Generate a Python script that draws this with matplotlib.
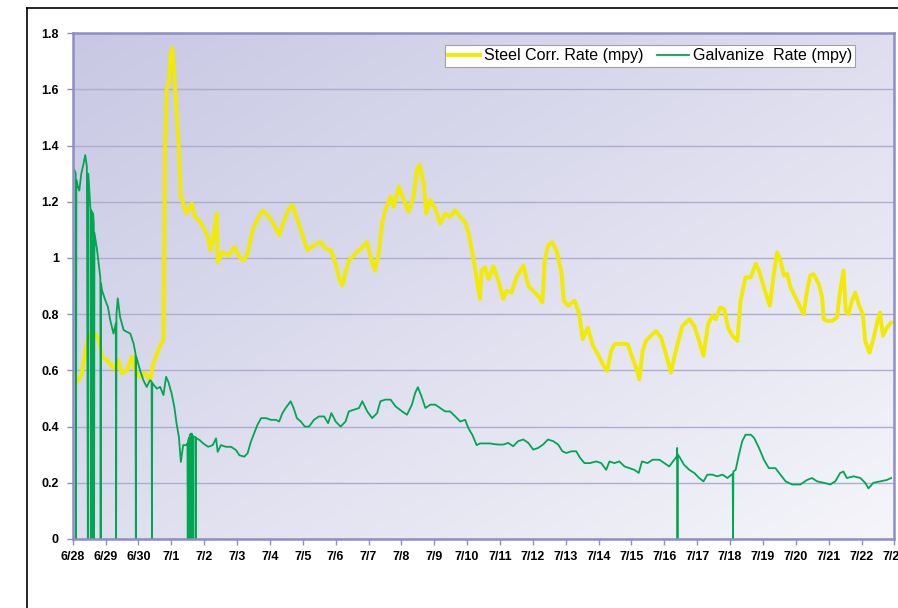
import numpy as np
import matplotlib
matplotlib.use("Agg")
import matplotlib.pyplot as plt
from matplotlib.colors import LinearSegmentedColormap
from matplotlib.lines import Line2D

plt.rcParams["font.family"] = ["Liberation Sans", "DejaVu Sans"]

# ---------------------------------------------------------------
# Data. x = days since 6/28 00:00
# ---------------------------------------------------------------
steel_day = [
    0.03, 0.18, 0.28, 0.38, 0.48, 0.69, 0.79, 0.89, 1.09, 1.24, 1.39, 1.49,
    1.65, 1.80, 1.90, 2.05, 2.20, 2.35, 2.45, 2.56, 2.69, 2.76, 2.81, 2.86,
    2.93, 2.98, 3.03, 3.09, 3.16, 3.23, 3.29, 3.36, 3.46, 3.62, 3.72, 3.87,
    4.02, 4.11, 4.19, 4.28, 4.38, 4.41, 4.56, 4.74, 4.92, 5.07, 5.20, 5.32,
    5.47, 5.63, 5.78, 5.93, 6.08, 6.28, 6.43, 6.58, 6.69, 6.84, 6.99, 7.14,
    7.34, 7.54, 7.70, 7.85, 8.00, 8.10, 8.20, 8.30, 8.40, 8.60, 8.76, 8.96,
    9.06, 9.19, 9.31, 9.41, 9.51, 9.67, 9.77, 9.92, 10.07, 10.22, 10.37, 10.47,
    10.55, 10.68, 10.75, 10.88, 11.03, 11.18, 11.33, 11.48, 11.64, 11.79, 11.94, 12.06,
    12.19, 12.29, 12.39, 12.44, 12.54, 12.65, 12.80, 12.95, 13.10, 13.20, 13.35, 13.50,
    13.71, 13.86, 14.01, 14.16, 14.29, 14.36, 14.46, 14.59, 14.72, 14.87, 14.94, 15.07,
    15.27, 15.40, 15.52, 15.67, 15.83, 15.98, 16.13, 16.26, 16.38, 16.48, 16.69, 16.89,
    16.99, 17.14, 17.24, 17.34, 17.44, 17.59, 17.75, 17.90, 18.05, 18.20, 18.30, 18.40,
    18.55, 18.76, 18.91, 19.06, 19.19, 19.33, 19.46, 19.56, 19.70, 19.82, 19.94, 20.07,
    20.22, 20.32, 20.47, 20.63, 20.78, 20.88, 21.03, 21.21, 21.33, 21.43, 21.53, 21.64,
    21.74, 21.84, 21.99, 22.14, 22.24, 22.34, 22.44, 22.54, 22.70, 22.80, 22.85, 22.95,
    23.10, 23.25, 23.35, 23.45, 23.52, 23.60, 23.71, 23.81, 23.91, 24.04, 24.11, 24.24,
    24.36, 24.46, 24.56, 24.65, 24.77, 24.90,
]
steel_rate = [
    0.553, 0.565, 0.59, 0.67, 0.725, 0.73, 0.71, 0.65, 0.63, 0.607, 0.636, 0.59,
    0.60, 0.65, 0.60, 0.577, 0.59, 0.565, 0.624, 0.66, 0.696, 0.707, 1.384, 1.60,
    1.63, 1.73, 1.746, 1.657, 1.515, 1.384, 1.218, 1.194, 1.158, 1.194, 1.147, 1.129,
    1.10, 1.075, 1.027, 1.075, 1.158, 0.985, 1.02, 1.009, 1.039, 1.003, 0.991, 1.015,
    1.099, 1.14, 1.168, 1.152, 1.128, 1.081, 1.134, 1.176, 1.188, 1.134, 1.081, 1.027,
    1.045, 1.057, 1.033, 1.027, 0.979, 0.931, 0.901, 0.949, 0.99, 1.015, 1.033, 1.057,
    1.003, 0.955, 1.015, 1.122, 1.17, 1.218, 1.182, 1.254, 1.206, 1.164, 1.218, 1.313,
    1.331, 1.266, 1.158, 1.206, 1.176, 1.122, 1.158, 1.146, 1.17, 1.146, 1.128, 1.081,
    0.997, 0.925, 0.854, 0.955, 0.967, 0.925, 0.97, 0.919, 0.854, 0.883, 0.877, 0.931,
    0.973, 0.901, 0.883, 0.865, 0.842, 0.99, 1.044, 1.056, 1.026, 0.949, 0.848, 0.83,
    0.848, 0.806, 0.711, 0.752, 0.687, 0.657, 0.621, 0.598, 0.669, 0.693, 0.695, 0.693,
    0.657, 0.61, 0.568, 0.669, 0.705, 0.723, 0.74, 0.717, 0.657, 0.592, 0.645, 0.693,
    0.758, 0.782, 0.758, 0.705, 0.651, 0.764, 0.794, 0.782, 0.824, 0.818, 0.752, 0.723,
    0.705, 0.848, 0.931, 0.931, 0.979, 0.955, 0.895, 0.83, 0.943, 1.02, 0.99, 0.937,
    0.943, 0.895, 0.86, 0.824, 0.80, 0.883, 0.937, 0.943, 0.907, 0.86, 0.782, 0.776,
    0.776, 0.788, 0.883, 0.955, 0.812, 0.80, 0.848, 0.877, 0.836, 0.80, 0.705, 0.663,
    0.711, 0.764, 0.806, 0.723, 0.752, 0.77,
]

galv_day = [
    0.00, 0.05, 0.09, 0.10, 0.11, 0.16, 0.20, 0.26, 0.33, 0.38, 0.43, 0.46,
    0.47, 0.50, 0.54, 0.55, 0.56, 0.60, 0.61, 0.62, 0.64, 0.65, 0.66, 0.74,
    0.81, 0.84, 0.85, 0.86, 0.89, 0.99, 1.07, 1.14, 1.24, 1.31, 1.32, 1.33,
    1.37, 1.44, 1.55, 1.65, 1.75, 1.85, 1.91, 1.92, 1.93, 2.05, 2.15, 2.25,
    2.35, 2.40, 2.41, 2.42, 2.56, 2.66, 2.76, 2.84, 2.91, 3.01, 3.09, 3.16,
    3.23, 3.29, 3.36, 3.46, 3.49, 3.50, 3.51, 3.54, 3.55, 3.56, 3.60, 3.61,
    3.62, 3.64, 3.65, 3.66, 3.73, 3.74, 3.75, 3.87, 3.97, 4.12, 4.26, 4.36,
    4.41, 4.51, 4.66, 4.82, 4.97, 5.07, 5.22, 5.32, 5.42, 5.52, 5.62, 5.73,
    5.88, 6.03, 6.18, 6.28, 6.38, 6.48, 6.63, 6.72, 6.82, 6.94, 7.06, 7.19,
    7.34, 7.49, 7.65, 7.77, 7.87, 8.00, 8.15, 8.30, 8.40, 8.55, 8.71, 8.81,
    8.96, 9.11, 9.26, 9.36, 9.51, 9.67, 9.82, 10.02, 10.17, 10.32, 10.42, 10.50,
    10.61, 10.73, 10.88, 11.03, 11.18, 11.33, 11.48, 11.64, 11.79, 11.94, 12.04, 12.16,
    12.29, 12.39, 12.54, 12.70, 12.80, 12.95, 13.10, 13.25, 13.40, 13.55, 13.71, 13.86,
    14.01, 14.16, 14.31, 14.46, 14.62, 14.77, 14.90, 15.02, 15.17, 15.32, 15.44, 15.57,
    15.73, 15.93, 16.08, 16.23, 16.33, 16.48, 16.63, 16.79, 16.94, 17.09, 17.22, 17.32,
    17.49, 17.64, 17.85, 18.00, 18.15, 18.30, 18.38, 18.39, 18.40, 18.41, 18.45, 18.60,
    18.76, 18.91, 19.06, 19.19, 19.31, 19.46, 19.61, 19.77, 19.92, 20.04, 20.08, 20.09,
    20.10, 20.17, 20.27, 20.37, 20.47, 20.63, 20.73, 20.88, 21.03, 21.18, 21.38, 21.53,
    21.69, 21.89, 22.14, 22.34, 22.49, 22.65, 22.85, 23.05, 23.20, 23.35, 23.45, 23.55,
    23.76, 23.96, 24.11, 24.21, 24.36, 24.56, 24.77, 24.90,
]
galv_rate = [
    1.30, 1.313, 1.30, 0.0, 1.277, 1.253, 1.24, 1.30, 1.336, 1.366, 1.325, 0.0,
    1.30, 1.25, 1.17, 0.0, 1.17, 1.16, 0.0, 1.158, 1.12, 0.0, 1.09, 1.028,
    0.957, 0.93, 0.0, 0.91, 0.885, 0.85, 0.826, 0.779, 0.731, 0.767, 0.0, 0.80,
    0.856, 0.79, 0.743, 0.737, 0.731, 0.696, 0.66, 0.0, 0.65, 0.60, 0.565, 0.541,
    0.565, 0.56, 0.0, 0.555, 0.535, 0.541, 0.512, 0.577, 0.559, 0.517, 0.47, 0.41,
    0.363, 0.274, 0.334, 0.334, 0.34, 0.0, 0.35, 0.36, 0.0, 0.37, 0.375, 0.0,
    0.375, 0.37, 0.0, 0.365, 0.363, 0.0, 0.36, 0.351, 0.34, 0.328, 0.334, 0.358,
    0.31, 0.334, 0.328, 0.328, 0.316, 0.298, 0.293, 0.305, 0.346, 0.376, 0.406, 0.43,
    0.43, 0.424, 0.424, 0.418, 0.448, 0.466, 0.49, 0.466, 0.43, 0.418, 0.40, 0.40,
    0.424, 0.436, 0.436, 0.412, 0.448, 0.418, 0.40, 0.418, 0.454, 0.46, 0.466, 0.49,
    0.454, 0.43, 0.448, 0.49, 0.496, 0.496, 0.472, 0.454, 0.442, 0.478, 0.52, 0.54,
    0.508, 0.466, 0.478, 0.478, 0.466, 0.454, 0.454, 0.436, 0.418, 0.424, 0.394, 0.37,
    0.334, 0.34, 0.34, 0.34, 0.338, 0.336, 0.336, 0.342, 0.33, 0.348, 0.354, 0.342,
    0.318, 0.324, 0.336, 0.354, 0.348, 0.336, 0.312, 0.306, 0.312, 0.312, 0.288, 0.27,
    0.27, 0.276, 0.27, 0.246, 0.276, 0.27, 0.276, 0.258, 0.252, 0.246, 0.235, 0.276,
    0.27, 0.282, 0.282, 0.27, 0.258, 0.282, 0.294, 0.324, 0.0, 0.30, 0.294, 0.264,
    0.246, 0.235, 0.217, 0.205, 0.229, 0.229, 0.223, 0.229, 0.217, 0.229, 0.23, 0.0,
    0.24, 0.246, 0.30, 0.348, 0.371, 0.371, 0.36, 0.324, 0.282, 0.252, 0.252, 0.229,
    0.205, 0.194, 0.194, 0.21, 0.217, 0.205, 0.20, 0.194, 0.205, 0.235, 0.24, 0.217,
    0.223, 0.217, 0.20, 0.18, 0.20, 0.205, 0.21, 0.217,
]

day_labels = ["6/28", "6/29", "6/30", "7/1", "7/2", "7/3", "7/4", "7/5", "7/6",
              "7/7", "7/8", "7/9", "7/10", "7/11", "7/12", "7/13", "7/14", "7/15",
              "7/16", "7/17", "7/18", "7/19", "7/20", "7/21", "7/22", "7/23"]
y_ticks = [0, 0.2, 0.4, 0.6, 0.8, 1, 1.2, 1.4, 1.6, 1.8]
y_labels = ["0", "0.2", "0.4", "0.6", "0.8", "1", "1.2", "1.4", "1.6", "1.8"]

# ---------------------------------------------------------------
# Figure
# ---------------------------------------------------------------
fig = plt.figure(figsize=(8.98, 6.08), dpi=100)
ax = fig.add_axes([0.081, 0.1135, 0.915, 0.832])

# outer black frame (runs off the right and bottom edges)
fig.add_artist(Line2D([0.030, 1.0], [0.9868, 0.9868], transform=fig.transFigure,
                      color="black", lw=1.2))
fig.add_artist(Line2D([0.030, 0.030], [0.0, 0.9868], transform=fig.transFigure,
                      color="black", lw=1.2))

# diagonal lavender gradient behind the plot
gx, gy = np.meshgrid(np.linspace(0, 1, 200), np.linspace(1, 0, 200))
grad = (gx + (1 - gy)) / 2
cmap = LinearSegmentedColormap.from_list("bg", ["#c8c8e4", "#dedeef", "#f5f5fa"])
ax.imshow(grad, extent=[0, 1, 0, 1], transform=ax.transAxes, cmap=cmap,
          aspect="auto", zorder=0, interpolation="bilinear")

ax.plot(steel_day, steel_rate, color="#f2ea00", lw=2.8, zorder=3,
        label="Steel Corr. Rate (mpy)")
ax.plot(galv_day, galv_rate, color="#00a651", lw=1.3, zorder=4,
        label="Galvanize  Rate (mpy)")

ax.set_xlim(0, 24.9)
ax.set_ylim(0, 1.8)
ax.set_xticks(range(len(day_labels)))
ax.set_xticklabels(day_labels)
ax.set_yticks(y_ticks)
ax.set_yticklabels(y_labels)

for lbl in ax.get_xticklabels() + ax.get_yticklabels():
    lbl.set_fontweight("bold")
    lbl.set_fontsize(9)

ax.grid(axis="y", color="#adadd0", lw=1.0, zorder=1)
for s in ax.spines.values():
    s.set_color("#8e8ec6")
    s.set_linewidth(1.8)
    s.set_zorder(5)
ax.tick_params(axis="both", colors="#8e8ec6", length=4, width=1, labelcolor="black")
ax.tick_params(axis="x", pad=5)
ax.tick_params(axis="y", pad=6)

leg = ax.legend(loc="upper right", bbox_to_anchor=(0.952, 0.976), ncol=2,
                fontsize=11.5, frameon=True, fancybox=False, borderaxespad=0,
                handlelength=2.0, handletextpad=0.25, columnspacing=0.8,
                borderpad=0.2)
leg.get_frame().set_edgecolor("#a0a0a0")
leg.get_frame().set_linewidth(0.8)
leg.get_frame().set_facecolor("white")
leg.get_frame().set_alpha(1)
leg.set_zorder(6)

fig.savefig("out.png", dpi=100)
